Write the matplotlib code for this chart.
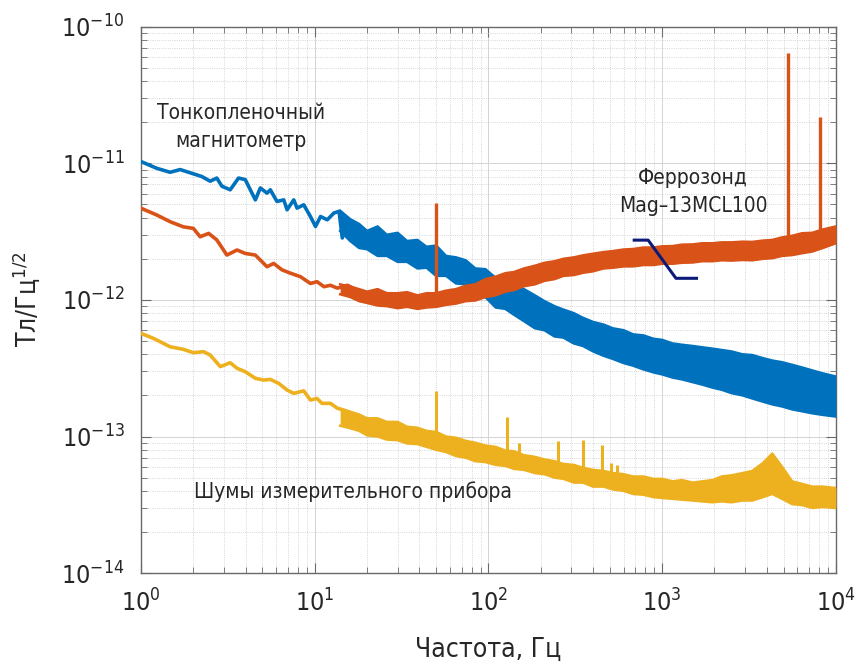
import numpy as np
import matplotlib
matplotlib.use("Agg")
import matplotlib.pyplot as plt

# =========================================================
# DATA
# =========================================================

# low-frequency part, drawn as a plain line (Hz, T/Hz^0.5)
blue_f = [1.0, 1.23, 1.47, 1.68, 2.24, 2.50, 2.73, 2.92, 3.26, 3.64, 3.98, 4.55,
          4.86, 5.31, 5.55, 6.06, 6.63, 6.93, 7.57, 7.91, 8.64, 9.44, 10.1, 10.8,
          11.8, 12.9, 13.8, 14.4, 15.4, 16.1, 17.6]
blue_v = [10.3, 9.2, 8.6, 9.0, 8.0, 7.4, 7.8, 6.8, 6.4, 7.8, 7.6, 5.4,
          6.6, 6.05, 6.4, 5.26, 5.4, 4.57, 5.4, 4.7, 4.97, 4.08, 3.45, 4.08,
          3.86, 4.33, 4.45, 2.84, 3.86, 3.27, 2.92]  # x 1e-12

orange_f = [1.0, 1.23, 1.47, 1.75, 2.0, 2.19, 2.45, 2.73, 3.12, 3.57, 3.98, 4.55,
            5.31, 5.8, 6.48, 7.24, 8.27, 9.44, 10.3, 11.3, 12.3, 13.5, 15.4, 17.6]
orange_v = [4.69, 4.19, 3.74, 3.43, 3.34, 2.9, 3.07, 2.75, 2.13, 2.32, 2.19, 2.13,
            1.75, 1.85, 1.66, 1.57, 1.48, 1.32, 1.36, 1.25, 1.28, 1.22, 1.28, 1.18]  # x 1e-12

yellow_f = [1.0, 1.18, 1.47, 1.75, 2.0, 2.29, 2.5, 2.86, 3.26, 3.57, 3.98, 4.55,
            5.08, 5.55, 6.2, 6.93, 7.57, 8.64, 9.44, 10.3, 11.0, 12.3, 13.5, 14.7,
            16.1, 18.4]
yellow_v = [5.69, 5.23, 4.54, 4.35, 4.11, 4.18, 3.95, 3.25, 3.47, 3.16, 2.98, 2.67,
            2.59, 2.62, 2.45, 2.19, 2.07, 2.16, 1.85, 1.9, 1.75, 1.75, 1.61, 1.56,
            1.48, 1.40]  # x 1e-13

# dense noisy part, drawn as a band between upper and lower envelopes
band_f = [14, 16, 18, 20, 23, 26, 30, 34, 39, 44, 50, 57, 65, 74, 84, 96, 110,
          125, 140, 160, 185, 210, 240, 270, 310, 350, 400, 460, 520, 600, 680,
          780, 890, 1000, 1150, 1300, 1500, 1700, 1950, 2200, 2500, 2900, 3300,
          3800, 4300, 4900, 5600, 6400, 7300, 8400, 10000]

blue_hi = [4.5, 3.9, 3.6, 3.2, 3.45, 3.0, 3.1, 2.7, 2.75, 2.45, 2.5, 2.1, 2.05,
           1.95, 1.7, 1.68, 1.45, 1.45, 1.3, 1.2, 1.08, 0.98, 0.9, 0.85, 0.8,
           0.74, 0.69, 0.66, 0.62, 0.6, 0.56, 0.55, 0.52, 0.51, 0.48, 0.47, 0.46,
           0.45, 0.44, 0.43, 0.42, 0.40, 0.395, 0.375, 0.36, 0.35, 0.335, 0.32,
           0.305, 0.29, 0.275]  # x 1e-12
blue_lo = [3.2, 2.7, 2.4, 2.35, 2.1, 2.1, 1.9, 1.9, 1.7, 1.72, 1.5, 1.5, 1.32,
           1.3, 1.1, 1.05, 0.88, 0.86, 0.78, 0.7, 0.62, 0.6, 0.54, 0.53, 0.48,
           0.46, 0.42, 0.39, 0.37, 0.345, 0.33, 0.31, 0.295, 0.285, 0.27, 0.262,
           0.25, 0.24, 0.228, 0.22, 0.208, 0.2, 0.19, 0.18, 0.172, 0.166, 0.158,
           0.153, 0.148, 0.144, 0.14]  # x 1e-12

orange_hi = [1.3, 1.25, 1.2, 1.15, 1.2, 1.12, 1.12, 1.14, 1.08, 1.12, 1.12, 1.17,
             1.2, 1.27, 1.3, 1.42, 1.48, 1.57, 1.6, 1.7, 1.78, 1.87, 1.92, 2.0,
             2.05, 2.12, 2.18, 2.24, 2.28, 2.34, 2.36, 2.42, 2.42, 2.47, 2.48,
             2.54, 2.55, 2.6, 2.6, 2.64, 2.64, 2.67, 2.66, 2.72, 2.75, 2.87, 2.95,
             3.08, 3.1, 3.28, 3.45]  # x 1e-12
orange_lo = [1.1, 1.05, 0.98, 0.95, 0.91, 0.9, 0.87, 0.89, 0.86, 0.88, 0.89,
             0.92, 0.94, 0.98, 0.99, 1.05, 1.08, 1.15, 1.18, 1.26, 1.3, 1.38,
             1.42, 1.5, 1.52, 1.58, 1.62, 1.7, 1.72, 1.76, 1.76, 1.8, 1.8, 1.84,
             1.84, 1.87, 1.88, 1.92, 1.92, 1.95, 1.94, 1.96, 1.95, 2.0, 2.02, 2.1,
             2.13, 2.2, 2.26, 2.4, 2.6]  # x 1e-12

yellow_hi = [1.6, 1.52, 1.45, 1.36, 1.36, 1.28, 1.28, 1.18, 1.16, 1.1, 1.08, 1.0,
             0.98, 0.93, 0.9, 0.86, 0.84, 0.79, 0.78, 0.73, 0.71, 0.68, 0.66, 0.63,
             0.62, 0.59, 0.57, 0.56, 0.54, 0.53, 0.51, 0.51, 0.49, 0.49, 0.47,
             0.48, 0.46, 0.47, 0.48, 0.51, 0.52, 0.54, 0.56, 0.64, 0.75, 0.6, 0.47,
             0.45, 0.43, 0.43, 0.42]  # x 1e-13
yellow_lo = [1.2, 1.15, 1.1, 1.02, 1.0, 0.95, 0.94, 0.89, 0.88, 0.84, 0.8, 0.77,
             0.72, 0.7, 0.66, 0.65, 0.62, 0.61, 0.58, 0.57, 0.54, 0.53, 0.5, 0.49,
             0.46, 0.46, 0.43, 0.43, 0.41, 0.4, 0.38, 0.375, 0.36, 0.355, 0.35,
             0.345, 0.34, 0.335, 0.33, 0.335, 0.33, 0.34, 0.34, 0.36, 0.38, 0.35,
             0.32, 0.315, 0.3, 0.305, 0.3]  # x 1e-13

# mains / interference spikes
orange_spike_f = [50, 5300, 8100]
orange_spike_base = [1.0e-12, 2.4e-12, 2.7e-12]
orange_spike_top = [5.1e-12, 6.4e-11, 2.2e-11]

yellow_spike_f = [50, 128, 150, 250, 350, 450, 510, 550]
yellow_spike_base = [9.5e-14, 7.6e-14, 7.0e-14, 6.0e-14, 5.5e-14, 5.0e-14, 5.0e-14, 4.9e-14]
yellow_spike_top = [2.14e-13, 1.4e-13, 9.0e-14, 9.3e-14, 9.5e-14, 8.6e-14, 6.4e-14, 6.2e-14]

# pointer from the fluxgate label to its curve
pointer_f = [690, 830, 1200, 1575]
pointer_v = [2.74e-12, 2.74e-12, 1.44e-12, 1.44e-12]

x_ticks = [1e0, 1e1, 1e2, 1e3, 1e4]
y_ticks = [1e-14, 1e-13, 1e-12, 1e-11, 1e-10]

# =========================================================
# STYLE
# =========================================================

plt.rcParams["font.family"] = ["DejaVu Sans"]
plt.rcParams["font.stretch"] = "condensed"
plt.rcParams["mathtext.fontset"] = "custom"
plt.rcParams["mathtext.rm"] = "DejaVu Sans:stretch=condensed"
plt.rcParams["mathtext.it"] = "DejaVu Sans:italic:stretch=condensed"
plt.rcParams["mathtext.default"] = "rm"

c_blue = "#0072BD"
c_orange = "#D95319"
c_yellow = "#EDB120"
c_pointer = "#0b1a78"
c_text = "#262626"

# =========================================================
# FIGURE
# =========================================================

fig = plt.figure(figsize=(8.6, 6.68), dpi=100)
ax = fig.add_axes([0.164, 0.142, 0.808, 0.818])

ax.set_xscale("log")
ax.set_yscale("log")

band_f = np.array(band_f)

for f, v, hi, lo, unit, col in [
        (blue_f, blue_v, blue_hi, blue_lo, 1e-12, c_blue),
        (orange_f, orange_v, orange_hi, orange_lo, 1e-12, c_orange),
        (yellow_f, yellow_v, yellow_hi, yellow_lo, 1e-13, c_yellow)]:

    hi = np.array(hi) * unit
    lo = np.array(lo) * unit

    ax.plot(f, np.array(v) * unit, color=col, linewidth=2.6, zorder=3)
    ax.fill_between(band_f, lo, hi, color=col, linewidth=0, zorder=3)
    ax.plot(band_f, hi, color=col, linewidth=1.8, zorder=3)
    ax.plot(band_f, lo, color=col, linewidth=1.8, zorder=3)

ax.vlines(orange_spike_f, orange_spike_base, orange_spike_top,
          color=c_orange, linewidth=2.4, zorder=3)
ax.vlines(yellow_spike_f, yellow_spike_base, yellow_spike_top,
          color=c_yellow, linewidth=2.2, zorder=3)

ax.plot(pointer_f, pointer_v, color=c_pointer, linewidth=2.2, zorder=4)

# =========================================================
# AXES
# =========================================================

ax.set_xlim(1, 1e4)
ax.set_ylim(1e-14, 1e-10)
ax.set_xticks(x_ticks)
ax.set_yticks(y_ticks)

ax.grid(True, which="major", color="#d4d4d4", linewidth=0.7, linestyle="-")
ax.grid(True, which="minor", color="#c8c8c8", linewidth=0.6, linestyle=":")
ax.set_axisbelow(True)

for s in ax.spines.values():
    s.set_color("#6a6a6a")
    s.set_linewidth(1.0)

ax.tick_params(which="both", direction="in", top=True, right=True,
               colors="#6a6a6a", labelcolor=c_text)
ax.tick_params(which="major", length=7, labelsize=18, pad=12)
ax.tick_params(which="minor", length=4)

ax.set_xlabel("Частота, Гц", fontsize=19, color=c_text, labelpad=14)
ax.set_ylabel("Тл/Гц$^{1/2}$", fontsize=19, color=c_text, labelpad=14)

# =========================================================
# LABELS
# =========================================================

ax.text(3.78, 1.85e-11, "Тонкопленочный\nмагнитометр", fontsize=15,
        ha="center", va="center", color=c_text, linespacing=1.5)
ax.text(1510, 6.2e-12, "Феррозонд\nMag–13MCL100", fontsize=15,
        ha="center", va="center", color=c_text, linespacing=1.5)
ax.text(16.5, 3.93e-14, "Шумы измерительного прибора", fontsize=15,
        ha="center", va="center", color=c_text)

fig.savefig("out.png", dpi=100)
